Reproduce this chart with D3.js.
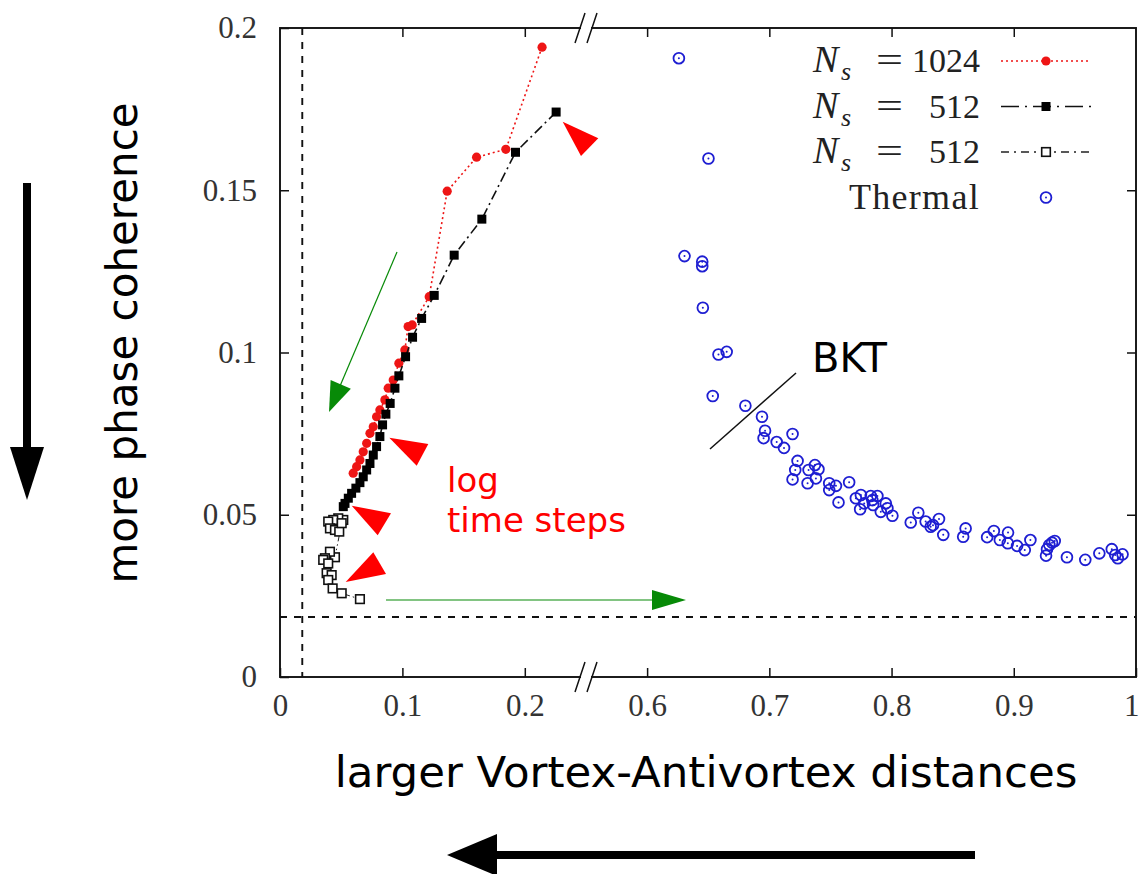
<!DOCTYPE html>
<html>
<head>
<meta charset="utf-8">
<script src="https://cdn.jsdelivr.net/npm/d3@7"></script>
<style>
  body { margin: 0; background: #fff; }
  svg { display: block; }
</style>
</head>
<body>
<div id="chart"></div>
<script>
// ---- data ----
// x = vortex-antivortex distance, y = phase coherence measure
const ns1024 = [
  [0.2141, 0.1941], [0.1845, 0.1626], [0.1606, 0.1602], [0.1366, 0.1497],
  [0.1219, 0.1172], [0.1080, 0.1085], [0.1047, 0.1080], [0.1020, 0.1008],
  [0.0971, 0.0967], [0.0925, 0.0915], [0.0884, 0.0890], [0.0857, 0.0854],
  [0.0816, 0.0823], [0.0789, 0.0802], [0.0762, 0.0771], [0.0735, 0.0751],
  [0.0708, 0.0720], [0.0680, 0.0694], [0.0653, 0.0669], [0.0626, 0.0648],
  [0.0598, 0.0628]
];

const ns512 = [
  [0.2256, 0.1741], [0.1924, 0.1617], [0.1649, 0.1411], [0.1423, 0.1300],
  [0.1260, 0.1176], [0.1157, 0.1105], [0.1083, 0.1047], [0.1026, 0.0987],
  [0.0971, 0.0928], [0.0939, 0.0890], [0.0900, 0.0843], [0.0865, 0.0810],
  [0.0838, 0.0777], [0.0816, 0.0741], [0.0789, 0.0710], [0.0762, 0.0684],
  [0.0735, 0.0658], [0.0708, 0.0638], [0.0680, 0.0617], [0.0653, 0.0599],
  [0.0620, 0.0582], [0.0585, 0.0566], [0.0558, 0.0551], [0.0531, 0.0535],
  [0.0517, 0.0525]
];

const ns512open = [
  [0.0517, 0.0484], [0.0476, 0.0489], [0.0435, 0.0484], [0.0394, 0.0479],
  [0.0408, 0.0458], [0.0449, 0.0453], [0.0484, 0.0448], [0.0504, 0.0474],
  [0.0449, 0.0369], [0.0408, 0.0386], [0.0367, 0.0366], [0.0353, 0.0361],
  [0.0394, 0.0350], [0.0381, 0.0320], [0.0422, 0.0314], [0.0394, 0.0299],
  [0.0430, 0.0273], [0.0504, 0.0258], [0.0653, 0.0240]
];

const thermal = [
  [0.6260, 0.1907], [0.6502, 0.1598], [0.6306, 0.1297], [0.6451, 0.1280],
  [0.6451, 0.1266], [0.6456, 0.1138], [0.6584, 0.0994], [0.6651, 0.1002],
  [0.6537, 0.0866], [0.6804, 0.0836], [0.6940, 0.0802], [0.6965, 0.0759],
  [0.6953, 0.0736], [0.7060, 0.0724], [0.7120, 0.0706], [0.7190, 0.0749],
  [0.7231, 0.0666], [0.7212, 0.0638], [0.7190, 0.0609], [0.7321, 0.0638],
  [0.7373, 0.0653], [0.7402, 0.0640], [0.7381, 0.0612], [0.7313, 0.0597],
  [0.7490, 0.0597], [0.7545, 0.0589], [0.7490, 0.0576], [0.7653, 0.0600],
  [0.7566, 0.0538], [0.7708, 0.0551], [0.7749, 0.0561], [0.7776, 0.0535],
  [0.7743, 0.0517], [0.7830, 0.0558], [0.7843, 0.0545], [0.7884, 0.0558],
  [0.7849, 0.0530], [0.7912, 0.0509], [0.7953, 0.0535], [0.7966, 0.0520],
  [0.8007, 0.0497], [0.8157, 0.0476], [0.8219, 0.0506], [0.8279, 0.0479],
  [0.8320, 0.0463], [0.8339, 0.0468], [0.8388, 0.0487], [0.8423, 0.0438],
  [0.8586, 0.0432], [0.8606, 0.0458], [0.8782, 0.0431], [0.8837, 0.0450],
  [0.8886, 0.0422], [0.8953, 0.0445], [0.8951, 0.0412], [0.9027, 0.0404],
  [0.9090, 0.0391], [0.9136, 0.0422], [0.9264, 0.0374], [0.9272, 0.0394],
  [0.9291, 0.0407], [0.9313, 0.0414], [0.9335, 0.0419], [0.9435, 0.0369],
  [0.9585, 0.0361], [0.9700, 0.0381], [0.9802, 0.0394], [0.9830, 0.0376],
  [0.9851, 0.0366], [0.9890, 0.0378]
];

// dashed guide lines
const guideX = 0.0182;
const guideY = 0.0185;

// tick values
const xTicks = [0, 0.1, 0.2, 0.6, 0.7, 0.8, 0.9, 1];
const xTickLabels = ['0', '0.1', '0.2', '0.6', '0.7', '0.8', '0.9', '1'];
const yTicks = [0, 0.05, 0.1, 0.15, 0.2];
const yTickLabels = ['0', '0.05', '0.1', '0.15', '0.2'];

// legend entries
const legendRows = [
  { num: '1024', kind: 'ns1024' },
  { num: '512', kind: 'ns512' },
  { num: '512', kind: 'ns512open' },
  { num: null, label: 'Thermal', kind: 'thermal' }
];

// ---- layout ----
const width = 1141;
const height = 874;
const plot = { left: 280, right: 1136, top: 28, bottom: 677, brk: 586 };

const serif = '"Liberation Serif", "DejaVu Serif", serif';
const sans = '"DejaVu Sans", Verdana, sans-serif';
const red = '#ee1515';
const blue = '#1e1ed2';
const green = '#078a07';

const svg = d3.select('#chart')
  .append('svg')
  .attr('width', width)
  .attr('height', height);

// broken x axis: [0, 0.25] then [0.55, 1]
const x = d3.scaleLinear()
  .domain([0, 0.25, 0.55, 1])
  .range([plot.left, plot.brk, plot.brk, plot.right]);

const y = d3.scaleLinear()
  .domain([0, 0.2])
  .range([plot.bottom, plot.top]);

// ---- axes ----
const xAxisBottom = d3.axisBottom(x)
  .tickValues(xTicks)
  .tickFormat((d, i) => xTickLabels[i])
  .tickSize(-9)
  .tickSizeOuter(0)
  .tickPadding(17);

const xAxisTop = d3.axisTop(x)
  .tickValues(xTicks.slice(1, -1))
  .tickFormat('')
  .tickSize(-9)
  .tickSizeOuter(0);

const yAxisLeft = d3.axisLeft(y)
  .tickValues(yTicks)
  .tickFormat((d, i) => yTickLabels[i])
  .tickSize(-9)
  .tickSizeOuter(0)
  .tickPadding(23);

const yAxisRight = d3.axisRight(y)
  .tickValues(yTicks.slice(1, -1))
  .tickFormat('')
  .tickSize(-9)
  .tickSizeOuter(0);

function styleAxis(g) {
  g.select('.domain').remove();
  g.selectAll('.tick line').attr('stroke', '#111').attr('stroke-width', 1.5);
  g.selectAll('.tick text')
    .attr('fill', '#333')
    .style('font-family', serif)
    .style('font-size', '31px');
}

const xAxisG = svg.append('g')
  .attr('transform', `translate(0,${plot.bottom})`)
  .call(xAxisBottom)
  .call(styleAxis);

// last label sits at the page edge, keep it inside
xAxisG.selectAll('.tick text')
  .filter(d => d === 1)
  .attr('text-anchor', 'end')
  .attr('dx', '3');

svg.append('g')
  .attr('transform', `translate(0,${plot.top})`)
  .call(xAxisTop)
  .call(styleAxis);

svg.append('g')
  .attr('transform', `translate(${plot.left},0)`)
  .call(yAxisLeft)
  .call(styleAxis);

svg.append('g')
  .attr('transform', `translate(${plot.right},0)`)
  .call(yAxisRight)
  .call(styleAxis);

// frame
svg.append('rect')
  .attr('x', plot.left)
  .attr('y', plot.top)
  .attr('width', plot.right - plot.left)
  .attr('height', plot.bottom - plot.top)
  .attr('fill', 'none')
  .attr('stroke', '#111')
  .attr('stroke-width', 1.9);

// axis break marks "//" on top and bottom
[plot.top, plot.bottom].forEach(function (yy) {
  svg.append('rect')
    .attr('x', plot.brk - 5)
    .attr('y', yy - 3)
    .attr('width', 10)
    .attr('height', 6)
    .attr('fill', '#fff');
  [-6, 6].forEach(function (dx) {
    svg.append('line')
      .attr('x1', plot.brk + dx - 5)
      .attr('y1', yy + 15)
      .attr('x2', plot.brk + dx + 5)
      .attr('y2', yy - 15)
      .attr('stroke', '#111')
      .attr('stroke-width', 1.5);
  });
});

// dashed guide lines
svg.append('line')
  .attr('x1', x(guideX)).attr('x2', x(guideX))
  .attr('y1', plot.top).attr('y2', plot.bottom)
  .attr('stroke', '#111').attr('stroke-width', 1.9)
  .attr('stroke-dasharray', '7,7');

svg.append('line')
  .attr('x1', plot.left).attr('x2', plot.right)
  .attr('y1', y(guideY)).attr('y2', y(guideY))
  .attr('stroke', '#111').attr('stroke-width', 1.9)
  .attr('stroke-dasharray', '7,7');

// ---- series ----
const line = d3.line()
  .x(d => x(d[0]))
  .y(d => y(d[1]));

// Ns = 512 open squares
svg.append('path')
  .datum(ns512open)
  .attr('d', line)
  .attr('fill', 'none')
  .attr('stroke', '#222')
  .attr('stroke-width', 1)
  .attr('stroke-dasharray', '6,3,1.5,3,1.5,3');

svg.append('g')
  .selectAll('rect')
  .data(ns512open)
  .join('rect')
  .attr('x', d => x(d[0]) - 4.3)
  .attr('y', d => y(d[1]) - 4.3)
  .attr('width', 8.6)
  .attr('height', 8.6)
  .attr('fill', '#fff')
  .attr('stroke', '#111')
  .attr('stroke-width', 1.6);

// Ns = 1024 red dotted
svg.append('path')
  .datum(ns1024)
  .attr('d', line)
  .attr('fill', 'none')
  .attr('stroke', red)
  .attr('stroke-width', 1.6)
  .attr('stroke-dasharray', '2,3');

svg.append('g')
  .selectAll('circle')
  .data(ns1024)
  .join('circle')
  .attr('cx', d => x(d[0]))
  .attr('cy', d => y(d[1]))
  .attr('r', 4.6)
  .attr('fill', red);

// Ns = 512 black dash-dot
svg.append('path')
  .datum(ns512)
  .attr('d', line)
  .attr('fill', 'none')
  .attr('stroke', '#111')
  .attr('stroke-width', 1.6)
  .attr('stroke-dasharray', '10,4,2,4');

svg.append('g')
  .selectAll('rect')
  .data(ns512)
  .join('rect')
  .attr('x', d => x(d[0]) - 4.5)
  .attr('y', d => y(d[1]) - 4.5)
  .attr('width', 9)
  .attr('height', 9)
  .attr('fill', '#000');

// thermal open circles with a centre dot
const thermalG = svg.append('g')
  .selectAll('g')
  .data(thermal)
  .join('g')
  .attr('transform', d => `translate(${x(d[0])},${y(d[1])})`);

thermalG.append('circle')
  .attr('r', 5.4)
  .attr('fill', 'none')
  .attr('stroke', blue)
  .attr('stroke-width', 1.8);

thermalG.append('circle')
  .attr('r', 1)
  .attr('fill', blue);

// ---- legend ----
const legend = svg.append('g').attr('class', 'legend');
const legendTop = 61;
const legendStep = 45.5;

legendRows.forEach(function (row, i) {
  const cy = legendTop + i * legendStep;
  const base = cy + 11;

  if (row.num) {
    legend.append('text')
      .attr('x', 813).attr('y', base)
      .style('font-family', serif).style('font-size', '38px')
      .style('font-style', 'italic')
      .attr('fill', '#222')
      .text('N');
    legend.append('text')
      .attr('x', 841).attr('y', base + 8)
      .style('font-family', serif).style('font-size', '26px')
      .style('font-style', 'italic')
      .attr('fill', '#222')
      .text('s');
    legend.append('text')
      .attr('x', 876).attr('y', base)
      .attr('textLength', 27)
      .attr('lengthAdjust', 'spacingAndGlyphs')
      .style('font-family', serif).style('font-size', '36px')
      .attr('fill', '#222')
      .text('=');
    legend.append('text')
      .attr('x', 980).attr('y', base)
      .attr('text-anchor', 'end')
      .style('font-family', serif).style('font-size', '34px')
      .attr('fill', '#222')
      .text(row.num);
  } else {
    legend.append('text')
      .attr('x', 980).attr('y', base)
      .attr('text-anchor', 'end')
      .style('font-family', serif).style('font-size', '36px')
      .style('letter-spacing', '1.3px')
      .attr('fill', '#222')
      .text(row.label);
  }

  const sx1 = 1001, sx2 = 1091, mx = 1046;
  if (row.kind === 'ns1024') {
    legend.append('line')
      .attr('x1', sx1).attr('x2', sx2).attr('y1', cy).attr('y2', cy)
      .attr('stroke', red).attr('stroke-width', 1.6)
      .attr('stroke-dasharray', '2,3');
    legend.append('circle')
      .attr('cx', mx).attr('cy', cy).attr('r', 4.6).attr('fill', red);
  } else if (row.kind === 'ns512') {
    legend.append('line')
      .attr('x1', sx1).attr('x2', sx2).attr('y1', cy).attr('y2', cy)
      .attr('stroke', '#111').attr('stroke-width', 1.6)
      .attr('stroke-dasharray', '18,6,2,6');
    legend.append('rect')
      .attr('x', mx - 4.5).attr('y', cy - 4.5)
      .attr('width', 9).attr('height', 9).attr('fill', '#000');
  } else if (row.kind === 'ns512open') {
    legend.append('line')
      .attr('x1', sx1).attr('x2', sx2).attr('y1', cy).attr('y2', cy)
      .attr('stroke', '#222').attr('stroke-width', 1.4)
      .attr('stroke-dasharray', '8,5,2,5');
    legend.append('rect')
      .attr('x', mx - 4.3).attr('y', cy - 4.3)
      .attr('width', 8.6).attr('height', 8.6)
      .attr('fill', '#fff').attr('stroke', '#111').attr('stroke-width', 1.6);
  } else {
    legend.append('circle')
      .attr('cx', mx).attr('cy', cy).attr('r', 5.4)
      .attr('fill', 'none').attr('stroke', blue).attr('stroke-width', 1.8);
    legend.append('circle')
      .attr('cx', mx).attr('cy', cy).attr('r', 1).attr('fill', blue);
  }
});

// ---- annotations (page overlay, pixel positions) ----
function arrow(g, x1, y1, x2, y2, color, lw, headLen, headHalf) {
  const dx = x2 - x1, dy = y2 - y1;
  const len = Math.sqrt(dx * dx + dy * dy);
  const ux = dx / len, uy = dy / len;
  const bx = x2 - ux * headLen, by = y2 - uy * headLen;
  g.append('line')
    .attr('x1', x1).attr('y1', y1).attr('x2', bx + ux).attr('y2', by + uy)
    .attr('stroke', color).attr('stroke-width', lw);
  g.append('path')
    .attr('d', `M${x2},${y2}L${bx - uy * headHalf},${by + ux * headHalf}L${bx + uy * headHalf},${by - ux * headHalf}Z`)
    .attr('fill', color);
}

const notes = svg.append('g');

// green arrows showing the evolution
arrow(notes, 397, 252, 329, 412, green, 1.2, 30, 11);
arrow(notes, 386, 600, 686, 600, green, 1.2, 34, 10);

// big black arrows outside the frame
arrow(notes, 27, 183, 27, 500, '#000', 8, 53, 17);
arrow(notes, 975, 855, 447, 855, '#000', 8, 50, 21);

// red pointer triangles
const pointers = [
  [[562.7, 121.7], [598.3, 138.3], [581, 156]],
  [[389.3, 437.7], [428.3, 444], [416.7, 465.7]],
  [[351.7, 505.7], [391, 513.3], [377.7, 535.3]],
  [[345.7, 582], [386, 574], [373.3, 552.3]]
];
notes.selectAll('path.ptr')
  .data(pointers)
  .join('path')
  .attr('class', 'ptr')
  .attr('d', d => 'M' + d.map(p => p.join(',')).join('L') + 'Z')
  .attr('fill', '#ff0000');

// BKT marker line and label
notes.append('line')
  .attr('x1', 710).attr('y1', 449).attr('x2', 796).attr('y2', 373)
  .attr('stroke', '#111').attr('stroke-width', 1.5);

notes.append('text')
  .attr('x', 812).attr('y', 372)
  .style('font-family', sans).style('font-size', '40px')
  .attr('fill', '#000')
  .text('BKT');

notes.append('text')
  .attr('x', 447).attr('y', 492)
  .style('font-family', sans).style('font-size', '34px')
  .attr('fill', '#ff0000')
  .text('log');

notes.append('text')
  .attr('x', 447).attr('y', 532)
  .style('font-family', sans).style('font-size', '34px')
  .attr('fill', '#ff0000')
  .text('time steps');

// ---- axis titles ----
svg.append('text')
  .attr('transform', 'translate(137,343) rotate(-90)')
  .attr('text-anchor', 'middle')
  .style('font-family', sans).style('font-size', '42px')
  .attr('fill', '#000')
  .text('more phase coherence');

svg.append('text')
  .attr('x', 706).attr('y', 787)
  .attr('text-anchor', 'middle')
  .style('font-family', sans).style('font-size', '43.5px')
  .attr('fill', '#000')
  .text('larger Vortex-Antivortex distances');
</script>
</body>
</html>
